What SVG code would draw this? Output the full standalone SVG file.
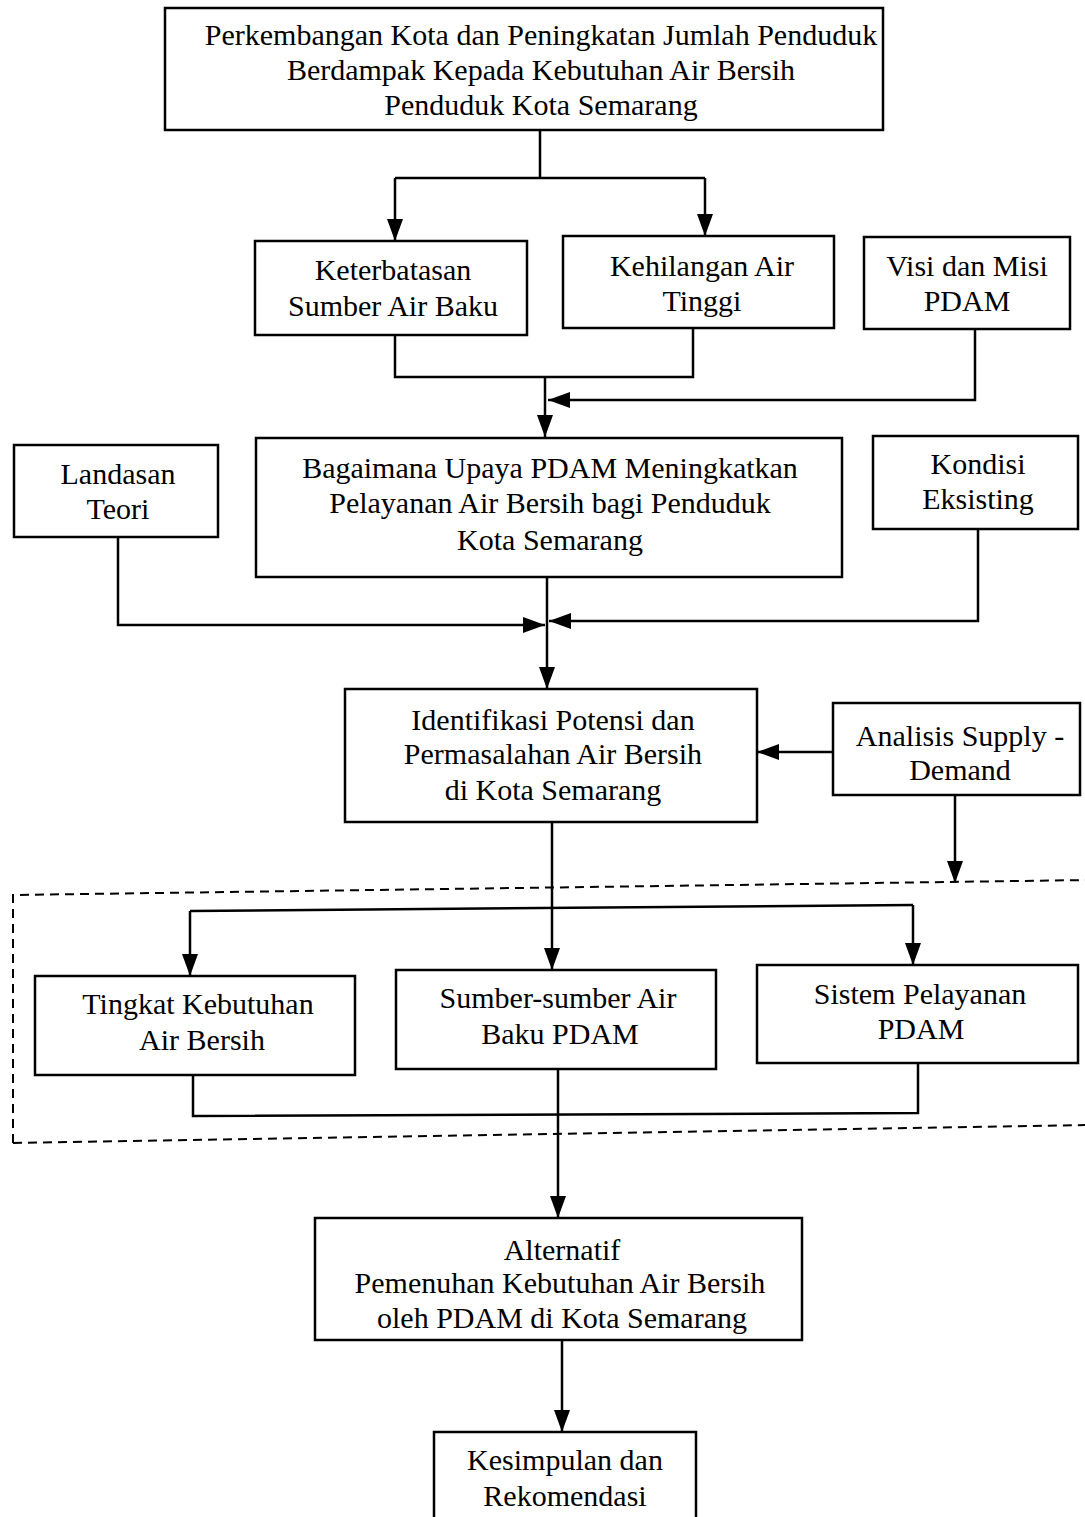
<svg xmlns="http://www.w3.org/2000/svg" width="1085" height="1517" viewBox="0 0 1085 1517">
<defs>
<style>
.box{fill:#fff;stroke:#000;stroke-width:2.5}
.t{font-family:"Liberation Serif","Times New Roman",serif;font-size:30px;fill:#000;text-anchor:middle}
.c{fill:none;stroke:#000;stroke-width:2.5}
.a{fill:none;stroke:#000;stroke-width:2.5;marker-end:url(#ah)}
.d{fill:none;stroke:#000;stroke-width:2;stroke-dasharray:9 6}
</style>
<marker id="ah" markerUnits="userSpaceOnUse" markerWidth="24" markerHeight="18" refX="22" refY="8" orient="auto">
<path d="M0,0 L22,8 L0,16 Z" fill="#000"/>
</marker>
</defs>
<rect width="1085" height="1517" fill="#fff"/>

<g id="connectors">
<path class="c" d="M540,130 V178 M395,178 H705"/>
<path class="a" d="M395,178 V241"/>
<path class="a" d="M705,178 V236"/>
<path class="c" d="M395,335 V377 H693 V328"/>
<path class="a" d="M545,377 V437"/>
<path class="a" d="M975,329 V400 H548"/>
<path class="a" d="M118,537 V625 H545"/>
<path class="a" d="M978,529 V621 H549"/>
<path class="a" d="M547,577 V689"/>
<path class="a" d="M833,752 H757"/>
<path class="a" d="M955,795 V883"/>
<path class="a" d="M552,822 V970"/>
<path class="c" d="M190,911 L913,905"/>
<path class="a" d="M190,911 V976"/>
<path class="a" d="M913,905 V965"/>
<path class="c" d="M193,1075 V1116 L918,1113 V1063"/>
<path class="a" d="M558,1069 V1218"/>
<path class="a" d="M562,1340 V1432"/>
</g>

<g id="group-dashed">
<path class="d" d="M13,1143 V895 L1090,880 M13,1143 L1090,1125"/>
</g>

<g id="n-top">
<rect class="box" x="165" y="8" width="718" height="122"/>
<text class="t" x="541" y="45">Perkembangan Kota dan Peningkatan Jumlah Penduduk</text>
<text class="t" x="541" y="80">Berdampak Kepada Kebutuhan Air Bersih</text>
<text class="t" x="541" y="115">Penduduk Kota Semarang</text>
</g>

<g id="n-keterbatasan">
<rect class="box" x="255" y="241" width="272" height="94"/>
<text class="t" x="393" y="280">Keterbatasan</text>
<text class="t" x="393" y="316">Sumber Air Baku</text>
</g>

<g id="n-kehilangan">
<rect class="box" x="563" y="236" width="271" height="92"/>
<text class="t" x="702" y="276">Kehilangan Air</text>
<text class="t" x="702" y="311">Tinggi</text>
</g>

<g id="n-visi">
<rect class="box" x="864" y="237" width="206" height="92"/>
<text class="t" x="967" y="276">Visi dan Misi</text>
<text class="t" x="967" y="311">PDAM</text>
</g>

<g id="n-landasan">
<rect class="box" x="14" y="445" width="204" height="92"/>
<text class="t" x="118" y="484">Landasan</text>
<text class="t" x="118" y="519">Teori</text>
</g>

<g id="n-bagaimana">
<rect class="box" x="256" y="438" width="586" height="139"/>
<text class="t" x="550" y="478">Bagaimana Upaya PDAM Meningkatkan</text>
<text class="t" x="550" y="513">Pelayanan Air Bersih bagi Penduduk</text>
<text class="t" x="550" y="550">Kota Semarang</text>
</g>

<g id="n-kondisi">
<rect class="box" x="873" y="436" width="205" height="93"/>
<text class="t" x="978" y="474">Kondisi</text>
<text class="t" x="978" y="509">Eksisting</text>
</g>

<g id="n-identifikasi">
<rect class="box" x="345" y="689" width="412" height="133"/>
<text class="t" x="553" y="730">Identifikasi Potensi dan</text>
<text class="t" x="553" y="764">Permasalahan Air Bersih</text>
<text class="t" x="553" y="800">di Kota Semarang</text>
</g>

<g id="n-analisis">
<rect class="box" x="833" y="703" width="247" height="92"/>
<text class="t" x="960" y="746">Analisis Supply -</text>
<text class="t" x="960" y="780">Demand</text>
</g>

<g id="n-tingkat">
<rect class="box" x="35" y="976" width="320" height="99"/>
<text class="t" x="198" y="1014">Tingkat Kebutuhan</text>
<text class="t" x="202" y="1050">Air Bersih</text>
</g>

<g id="n-sumber">
<rect class="box" x="396" y="970" width="320" height="99"/>
<text class="t" x="558" y="1008">Sumber-sumber Air</text>
<text class="t" x="560" y="1044">Baku PDAM</text>
</g>

<g id="n-sistem">
<rect class="box" x="757" y="965" width="321" height="98"/>
<text class="t" x="920" y="1004">Sistem Pelayanan</text>
<text class="t" x="921" y="1039">PDAM</text>
</g>

<g id="n-alternatif">
<rect class="box" x="315" y="1218" width="487" height="122"/>
<text class="t" x="562" y="1260">Alternatif</text>
<text class="t" x="560" y="1293">Pemenuhan Kebutuhan Air Bersih</text>
<text class="t" x="562" y="1328">oleh PDAM di Kota Semarang</text>
</g>

<g id="n-kesimpulan">
<rect class="box" x="434" y="1432" width="262" height="100"/>
<text class="t" x="565" y="1470">Kesimpulan dan</text>
<text class="t" x="565" y="1506">Rekomendasi</text>
</g>
</svg>
